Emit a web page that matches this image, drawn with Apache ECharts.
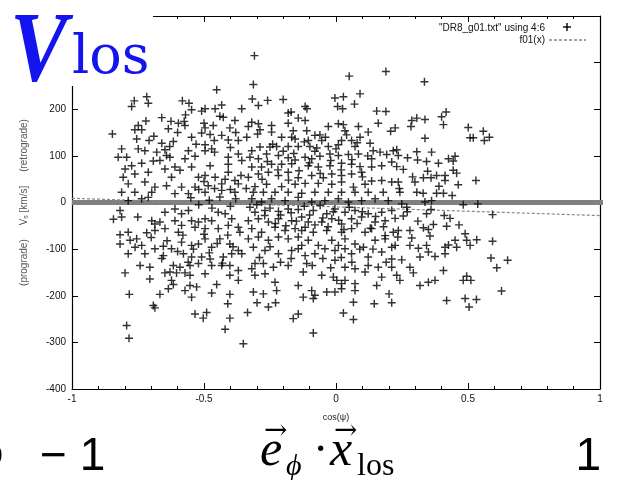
<!DOCTYPE html>
<html><head><meta charset="utf-8">
<script src="https://cdn.jsdelivr.net/npm/echarts@6/dist/echarts.min.js"></script>
<style>html,body{margin:0;padding:0;background:#fff}#c{width:626px;height:480px}</style>
</head><body><div id="c"></div>
<script>
// ---- data ----
const xTickLabels = ['-1', '-0.5', '0', '0.5', '1'];
const yTickLabels = ['-400', '-300', '-200', '-100', '0', '100', '200', '300', '400'];
const points = [
[-0.452,242],[-0.717,227],[-0.711,213],[-0.764,218],[-0.774,206],[-0.582,218],[-0.557,213],[-0.547,199],[-0.509,196],[-0.496,201],
[-0.458,201],[-0.433,209],[-0.357,201],[-0.625,174],[-0.597,170],[-0.575,174],[-0.572,165],[-0.749,165],[-0.762,156],[-0.736,156],
[-0.635,158],[-0.496,160],[-0.465,165],[-0.847,147],[-0.547,140],[-0.509,149],[-0.477,146],[-0.433,144],[-0.402,160],[-0.383,176],
[-0.427,183],[-0.755,136],[-0.708,133],[-0.660,127],[-0.616,131],[-0.559,111],[-0.534,99],[-0.496,124],[-0.461,133],[-0.408,134],
[-0.370,133],[-0.812,115],[-0.825,97],[-0.793,97],[-0.749,115],[-0.724,111],[-0.679,108],[-0.648,113],[-0.642,101],[-0.629,97],
[-0.572,94],[-0.496,111],[-0.471,115],[-0.408,97],[-0.370,104],[-0.774,79],[-0.736,84],[-0.692,89],[-0.667,90],[-0.610,76],
[-0.591,69],[-0.547,76],[-0.477,79],[-0.408,82],[-0.357,90],[-0.799,72],[-0.806,54],[-0.762,61],[-0.711,65],[-0.648,72],
[-0.623,54],[-0.521,54],[-0.496,58],[-0.458,54],[-0.408,65],[-0.383,47],[-0.787,40],[-0.724,44],[-0.686,33],[-0.642,36],
[-0.585,33],[-0.534,33],[-0.484,36],[-0.433,40],[-0.370,40],[-0.812,22],[-0.762,22],[-0.698,22],[-0.610,19],[-0.559,19],
[-0.496,22],[-0.433,26],[-0.383,22],
[-0.309,315],[-0.313,253],[-0.317,222],[-0.294,208],[-0.259,219],[-0.200,221],[0.050,271],[0.189,281],[0.091,233],[-0.004,224],
[0.028,227],[0.006,206],[0.025,201],[0.070,211],[0.154,196],[0.189,195],[0.160,170],[0.207,153],[-0.181,192],[-0.170,194],
[-0.117,206],[-0.110,201],[-0.143,181],[-0.117,176],[-0.181,170],[-0.319,172],[-0.294,169],[-0.332,163],[-0.288,156],[-0.244,165],
[-0.338,140],[-0.297,147],[-0.162,154],[-0.168,140],[-0.111,154],[-0.080,144],[-0.061,145],[-0.029,163],[0.009,169],[0.028,167],
[0.034,154],[0.085,163],[0.122,151],[0.091,140],[0.059,133],[0.021,133],[-0.054,133],[-0.105,133],[-0.155,136],[-0.206,140],
[-0.244,151],[-0.288,119],[-0.319,111],[-0.250,119],[-0.225,120],[-0.181,120],[-0.143,120],[-0.099,120],[-0.073,117],[-0.029,120],
[0.009,124],[0.072,120],[0.129,127],[0.141,111],[0.167,108],[0.192,103],[0.217,111],[-0.326,97],[-0.294,94],[-0.263,104],
[-0.218,101],[-0.181,96],[-0.155,91],[-0.117,97],[-0.092,94],[-0.061,99],[-0.023,104],[0.009,101],[0.047,103],[0.085,104],
[0.135,94],[-0.319,76],[-0.282,76],[-0.244,82],[-0.206,82],[-0.168,83],[-0.105,79],[-0.067,76],[-0.023,79],[0.021,84],
[0.059,82],[0.091,77],[0.135,76],[0.173,79],[0.211,87],[-0.332,54],[-0.294,61],[-0.256,65],[-0.218,58],[-0.181,65],
[-0.143,53],[-0.092,58],[-0.048,53],[-0.016,61],[0.021,58],[0.059,61],[0.097,65],[0.135,46],[0.173,47],[0.211,44],
[-0.307,34],[-0.263,39],[-0.206,34],[-0.155,39],[-0.117,41],[-0.067,41],[-0.016,39],[0.021,44],[0.066,33],[0.110,39],
[-0.313,22],[-0.275,22],[-0.231,22],[-0.181,22],[-0.130,20],[-0.080,22],[-0.029,22],[0.021,22],[0.072,22],[0.122,22],[0.179,22],
[0.335,259],[0.287,176],[0.306,181],[0.337,178],[0.284,163],[0.400,184],[0.417,194],[0.407,167],[0.501,161],[0.508,139],
[0.520,139],[0.558,153],[0.581,140],[0.562,133],[0.337,138],[0.224,160],[0.230,113],[0.236,101],[0.271,96],[0.306,109],
[0.309,91],[0.343,88],[0.362,108],[0.388,84],[0.426,94],[0.451,99],[0.444,89],[0.230,77],[0.255,71],[0.347,67],
[0.331,53],[0.360,53],[0.381,58],[0.413,58],[0.413,47],[0.444,69],[0.457,63],[0.463,38],[0.530,47],[0.299,44],
[0.236,44],[0.242,22],[0.306,22],[0.381,20],[0.407,20],
[-0.787,4],[-0.736,8],[-0.711,11],[-0.818,-17],[-0.843,-36],[-0.812,-31],[-0.751,-31],[-0.698,-39],[-0.686,-46],[-0.667,-42],
[-0.648,-21],[-0.610,-14],[-0.585,-24],[-0.559,-17],[-0.610,-39],[-0.585,-49],[-0.547,-39],[-0.521,-42],[-0.496,-35],[-0.471,-39],
[-0.446,-21],[-0.420,-24],[-0.395,-35],[-0.370,-53],[-0.364,-64],[-0.408,-49],[-0.446,-56],[-0.496,-56],[-0.534,-53],[-0.597,-64],
[-0.648,-56],[-0.686,-60],[-0.717,-65],[-0.787,-64],[-0.818,-69],[-0.755,-78],[-0.780,-81],[-0.818,-89],[-0.736,-92],[-0.686,-99],
[-0.654,-94],[-0.623,-99],[-0.585,-85],[-0.547,-92],[-0.521,-89],[-0.496,-78],[-0.471,-96],[-0.440,-78],[-0.402,-89],[-0.370,-103],
[-0.761,-96],[-0.787,-110],[-0.724,-110],[-0.654,-114],[-0.578,-110],[-0.547,-117],[-0.509,-117],[-0.477,-121],[-0.427,-117],[-0.395,-110],
[-0.357,-110],[-0.742,-135],[-0.705,-139],[-0.616,-135],[-0.591,-139],[-0.553,-135],[-0.521,-131],[-0.471,-135],[-0.433,-135],[-0.402,-135],
[-0.799,-151],[-0.705,-164],[-0.648,-151],[-0.629,-149],[-0.604,-151],[-0.572,-151],[-0.553,-156],[-0.496,-153],[-0.402,-156],[-0.370,-146],
[-0.370,-167],[-0.623,-167],[-0.616,-176],[-0.553,-178],[-0.528,-181],[-0.452,-176],[-0.635,-185],[-0.667,-197],[-0.572,-189],[-0.547,-203],
[-0.471,-194],[-0.402,-197],[-0.783,-197],[-0.692,-221],[-0.686,-226],[-0.410,-217],[-0.534,-239],[-0.503,-248],[-0.490,-236],[-0.402,-248],
[-0.793,-264],[-0.784,-291],[-0.420,-272],[-0.351,-303],
[-0.319,8],[-0.282,1],[-0.244,8],[-0.193,4],[-0.143,11],[-0.092,1],[-0.042,4],[0.009,8],[0.047,1],[0.097,4],
[0.148,8],[0.198,4],[-0.326,-10],[-0.307,-21],[-0.269,-17],[-0.218,-19],[-0.181,-14],[-0.143,-15],[-0.086,-17],[-0.035,-24],
[-0.004,-14],[0.034,-21],[0.072,-17],[0.122,-24],[0.173,-21],[0.211,-17],[-0.332,-39],[-0.294,-35],[-0.256,-42],[-0.218,-35],
[-0.168,-39],[-0.130,-31],[-0.105,-42],[-0.054,-42],[-0.016,-35],[0.021,-46],[0.059,-35],[0.097,-31],[0.148,-42],[0.186,-39],
[-0.319,-56],[-0.282,-64],[-0.231,-53],[-0.193,-60],[-0.155,-56],[-0.117,-53],[-0.086,-64],[-0.035,-60],[0.021,-64],[0.059,-56],
[0.110,-64],[0.135,-56],[0.186,-71],[0.217,-64],[-0.332,-78],[-0.294,-74],[-0.256,-81],[-0.218,-74],[-0.181,-78],[-0.143,-74],
[-0.105,-81],[-0.067,-92],[-0.016,-81],[0.009,-92],[0.034,-78],[0.072,-89],[0.104,-96],[0.148,-81],[0.186,-78],[0.211,-96],
[-0.313,-96],[-0.269,-103],[-0.218,-110],[-0.168,-103],[-0.143,-99],[-0.117,-114],[-0.080,-110],[-0.042,-99],[-0.004,-103],[0.034,-99],
[0.059,-110],[0.122,-117],[0.173,-106],[0.211,-121],[-0.307,-131],[-0.275,-131],[-0.237,-139],[-0.181,-135],[-0.124,-149],[-0.111,-131],
[-0.054,-156],[-0.004,-124],[0.034,-139],[0.072,-142],[0.122,-135],[0.160,-139],[0.211,-139],[-0.319,-142],[-0.307,-156],[-0.269,-153],
[-0.010,-160],[0.003,-167],[0.034,-167],[0.021,-174],[0.072,-174],[0.110,-149],[0.173,-160],[-0.231,-171],[-0.225,-189],[-0.143,-178],
[-0.092,-189],[-0.080,-199],[-0.035,-192],[-0.004,-192],[0.021,-185],[0.072,-189],[0.154,-178],[0.201,-196],[-0.313,-192],[-0.275,-196],
[-0.124,-203],[-0.086,-206],[-0.299,-215],[-0.256,-224],[-0.229,-215],[0.066,-214],[0.145,-217],[0.211,-215],[-0.335,-236],[-0.143,-239],
[-0.162,-249],[0.028,-237],[0.066,-251],[-0.086,-280],
[0.249,-3],[0.268,-10],[0.337,1],[0.362,4],[0.482,-5],[0.537,-3],[0.343,-24],[0.255,-29],[0.224,-34],[0.593,-26],
[0.432,-34],[0.369,-47],[0.331,-54],[0.350,-58],[0.419,-51],[0.466,-48],[0.236,-60],[0.280,-60],[0.234,-74],[0.287,-76],
[0.356,-72],[0.280,-92],[0.312,-98],[0.343,-92],[0.350,-106],[0.413,-96],[0.426,-91],[0.451,-81],[0.457,-96],[0.489,-67],
[0.495,-81],[0.508,-92],[0.533,-80],[0.593,-83],[0.224,-92],[0.413,-110],[0.375,-116],[0.318,-117],[0.249,-123],[0.587,-119],
[0.650,-124],[0.609,-140],[0.280,-139],[0.293,-151],[0.230,-156],[0.242,-167],[0.407,-146],[0.495,-158],[0.482,-167],[0.511,-167],
[0.375,-167],[0.350,-171],[0.318,-178],[0.627,-190],[0.419,-210],[0.489,-206],[0.532,-208],[0.504,-224],
[-0.30,-5],[-0.27,-28],[-0.25,-12],[-0.23,-45],[-0.21,-27],[-0.19,-50],[-0.17,-22],[-0.15,-40],[-0.13,-60],[-0.12,-8],
[-0.10,-27],[-0.08,-48],[-0.06,-6],[-0.05,-33],[-0.03,-52],[-0.01,-20],[0.01,-38],[0.03,-58],[0.05,-10],[0.08,-45],
[0.10,-20],[0.13,-55],[0.15,-30],[0.18,-52],
[-0.55,10],[-0.52,28],[-0.50,45],[-0.48,5],[-0.46,30],[-0.44,12],[-0.42,50],[-0.40,28],[-0.38,8],[-0.36,58],
[-0.34,30],[-0.52,-5],[-0.47,-12],[-0.40,-8],
[-0.28,50],[-0.26,88],[-0.24,125],[-0.22,70],[-0.20,110],[-0.18,48],[-0.16,105],[-0.14,68],[-0.12,130],[-0.10,85],
[-0.08,110],[-0.06,62],[-0.04,140],[-0.02,90],[0.00,115],[0.02,70],[0.04,145],[0.06,92],[0.08,128],[0.10,55],[0.12,100],
[-0.70,-75],[-0.66,-120],[-0.64,-82],[-0.60,-105],[-0.58,-70],[-0.56,-128],[-0.54,-100],[-0.50,-68],[-0.48,-108],[-0.45,-88],
[-0.43,-130],[-0.41,-70],[-0.39,-95],
[-0.29,-118],[-0.25,-95],[-0.21,-128],[-0.17,-120],[-0.13,-92],[-0.09,-135],[-0.05,-120],[-0.02,-140],[0.02,-118],[0.06,-128],
[0.09,-100],[0.14,-100],[0.19,-128],
[-0.72,175],[-0.69,142],[-0.66,182],[-0.63,120],[-0.60,150],[-0.57,188],[-0.53,125],[-0.50,170],[-0.46,108],[-0.44,185],
[-0.40,118],[-0.38,150],
[0.24,30],[0.27,-20],[0.29,55],[0.31,-40],[0.33,20],[0.36,-15],[0.39,35],[0.41,-28],[0.44,15]
];
const fitX = [-1, 1];
const fitY = [9, -28];
const zeroX = [-1, 1.1];
const zeroY = [0, 0];

// ---- chart ----
const chart = echarts.init(document.getElementById('c'), null, {renderer: 'canvas'});
const FONT = 'Liberation Sans';
const plus = 'path://M-0.18,-1H0.18V-0.18H1V0.18H0.18V1H-0.18V0.18H-1V-0.18H-0.18Z';
const axisCommon = {
  type: 'value',
  axisLine: {onZero: false, lineStyle: {color: '#000', width: 1.2}},
  axisTick: {inside: true, length: 6, lineStyle: {color: '#000', width: 1}},
  splitLine: {show: false}
};
const T = (x, y, text, font, extra) => ({type: 'text', z: 101, x: x, y: y,
  style: Object.assign({text: text, font: font, fill: '#000', verticalAlign: 'middle'}, extra || {})});
const option = {
  backgroundColor: '#fff',
  animation: false,
  grid: {left: 72, right: 26, top: 16, bottom: 91, containLabel: false},
  xAxis: [
    Object.assign({}, axisCommon, {
      min: -1, max: 1, interval: 0.5, position: 'bottom',
      minorTick: {show: true, splitNumber: 5, length: 3, lineStyle: {color: '#000'}},
      axisLabel: {fontSize: 10, color: '#111', margin: 5, fontFamily: FONT,
        formatter: (v) => xTickLabels[Math.round((v + 1) / 0.5)]},
      name: 'cos(ψ)', nameLocation: 'middle', nameGap: 24,
      nameTextStyle: {fontSize: 9, color: '#222', fontFamily: FONT}
    }),
    Object.assign({}, axisCommon, {
      min: -1, max: 1, interval: 0.5, position: 'top',
      minorTick: {show: true, splitNumber: 5, length: 3, lineStyle: {color: '#000'}},
      axisLabel: {show: false}
    })
  ],
  yAxis: [
    Object.assign({}, axisCommon, {
      min: -400, max: 400, interval: 100, position: 'left',
      axisLabel: {fontSize: 10, color: '#111', margin: 6, fontFamily: FONT,
        formatter: (v) => yTickLabels[Math.round((v + 400) / 100)]},
      name: '{a|(prograde)     V}{s|s}{a| [km/s]     (retrograde)}',
      nameLocation: 'middle', nameGap: 42, nameRotate: 90,
      nameTextStyle: {color: '#555', fontFamily: FONT, fontSize: 10,
        rich: {a: {fontSize: 10, color: '#555', fontFamily: FONT},
               s: {fontSize: 7, color: '#555', fontFamily: FONT, verticalAlign: 'bottom', padding: [4, 0, 0, 0]}}}
    }),
    Object.assign({}, axisCommon, {
      min: -400, max: 400, interval: 100, position: 'right',
      axisLabel: {show: false}
    })
  ],
  series: [
    {
      type: 'line', name: 'zero', data: zeroX.map((x, i) => [x, zeroY[i]]),
      symbol: 'none', clip: false, silent: true, z: 1,
      lineStyle: {color: '#808080', width: 5, cap: 'butt'}
    },
    {
      type: 'line', name: 'f01(x)', data: fitX.map((x, i) => [x, fitY[i]]),
      symbol: 'none', silent: true, z: 2,
      lineStyle: {color: '#8a8a8a', width: 1.2, type: [3, 2]}
    },
    {
      type: 'scatter', name: 'DR8_g01.txt', data: points,
      symbol: plus, symbolSize: 8, silent: true, z: 3,
      itemStyle: {color: '#000'}
    }
  ],
  graphic: [
    {type: 'rect', z: 100, shape: {x: 0, y: 0, width: 153, height: 86}, style: {fill: '#fff'}},
    Object.assign(T(10, 54, 'V', 'italic bold 100px "Liberation Serif"', {fill: '#1414f0'}), {scaleX: 0.86}),
    T(72, 59, 'los', '54px "DejaVu Serif"', {fill: '#1414f0'}),
    // legend
    T(545, 28, '"DR8_g01.txt" using 4:6', '10px "Liberation Sans"', {fill: '#111', align: 'right'}),
    T(545, 40, 'f01(x)', '10px "Liberation Sans"', {fill: '#111', align: 'right'}),
    {type: 'rect', z: 101, shape: {x: 563, y: 26.3, width: 8, height: 1.4}, style: {fill: '#000'}},
    {type: 'rect', z: 101, shape: {x: 566.3, y: 23, width: 1.4, height: 8}, style: {fill: '#000'}},
    {type: 'line', z: 101, shape: {x1: 549, y1: 40, x2: 586, y2: 40}, style: {stroke: '#444', lineWidth: 1, lineDash: [3, 2]}},
    // bottom annotation
    T(-14, 457, '0', '30px "Liberation Sans"'),
    T(40, 457, '\u2212 1', '46px "Liberation Sans"'),
    T(601, 457, '1', '46px "Liberation Sans"', {align: 'right'}),
    T(260, 452, 'e', 'italic 50px "Liberation Serif"'),
    T(264, 432, '\u2192', '28px "DejaVu Serif"'),
    T(286, 467, '\u03d5', 'italic 30px "Liberation Serif"'),
    T(313, 452, '\u00b7', '46px "Liberation Serif"'),
    T(330, 452, 'x', 'italic 50px "Liberation Serif"'),
    T(334, 432, '\u2192', '28px "DejaVu Serif"'),
    T(357, 467, 'los', '32px "Liberation Serif"')
  ]
};
chart.setOption(option);
</script>
</body></html>
